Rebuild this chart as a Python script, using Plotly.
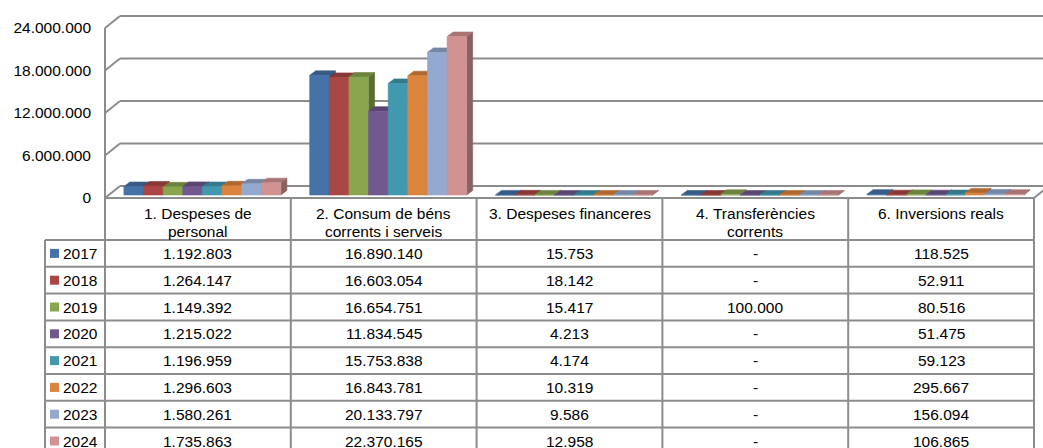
import plotly.graph_objects as go

# ---------------- data ----------------
categories = ["1. Despeses de<br>personal", "2. Consum de béns<br>corrents i serveis",
              "3. Despeses financeres", "4. Transferències<br>corrents", "6. Inversions reals"]
years = ["2017", "2018", "2019", "2020", "2021", "2022", "2023", "2024"]
v2017 = [1192803, 16890140, 15753, 0, 118525]
v2018 = [1264147, 16603054, 18142, 0, 52911]
v2019 = [1149392, 16654751, 15417, 100000, 80516]
v2020 = [1215022, 11834545, 4213, 0, 51475]
v2021 = [1196959, 15753838, 4174, 0, 59123]
v2022 = [1296603, 16843781, 10319, 0, 295667]
v2023 = [1580261, 20133797, 9586, 0, 156094]
v2024 = [1735863, 22370165, 12958, 0, 106865]
series = [v2017, v2018, v2019, v2020, v2021, v2022, v2023, v2024]
tick_vals = [0, 6000000, 12000000, 18000000, 24000000]
colors = ["#4572A7", "#AA4643", "#89A54E", "#71588F", "#4198AF", "#DB843D", "#93A9CF", "#D19392"]

# ---------------- layout geometry ----------------
W, H = 1043, 448
PX_L, PX_R, PX_T, PX_B = 105, 1034, 10, 198
PX_PER_M = 170 / 24.0          # pixels per million (front plane)
YMAX = (PX_B - PX_T) / PX_PER_M * 1e6
UNIT_PX = (PX_R - PX_L) / 5.0  # px per category unit
FONT = "Liberation Sans, Arial, sans-serif"
GRID = "#8c8c8c"

def fx(px):
    return (px - PX_L) / (PX_R - PX_L)

def fy(py):
    return (PX_B - py) / (PX_B - PX_T)

def shade(hexc, f):
    r, g, b = int(hexc[1:3], 16), int(hexc[3:5], 16), int(hexc[5:7], 16)
    return "rgb(%d,%d,%d)" % (r * f, g * f, b * f)

def fmt(v):
    return "-" if v == 0 else "{:,}".format(v).replace(",", ".")

group_w = 0.845
bw = group_w / len(years)
shift_x = 4.5 / UNIT_PX
base = 3 / PX_PER_M * 1e6
ddx = 6 / UNIT_PX
ddy = 4.5 / PX_PER_M * 1e6

fig = go.Figure()
for i, (yr, vals, col) in enumerate(zip(years, series, colors)):
    sx, sy, tx, ty, fxs, fys = [], [], [], [], [], []
    for c, v in enumerate(vals):
        x0 = c - group_w / 2 + i * bw + shift_x
        x1 = x0 + bw
        top = base + v
        sx += [x1, x1 + ddx, x1 + ddx, x1, x1, None]
        sy += [base, base + ddy, top + ddy, top, base, None]
        tx += [x0, x1, x1 + ddx, x0 + ddx, x0, None]
        ty += [top, top, top + ddy, top + ddy, top, None]
        fxs += [x0, x1, x1, x0, x0, None]
        fys += [base, base, top, top, base, None]
    for xs, ys, cc in [(sx, sy, shade(col, 0.66)), (tx, ty, shade(col, 0.8)), (fxs, fys, col)]:
        fig.add_trace(go.Scatter(x=xs, y=ys, mode="lines", fill="toself", fillcolor=cc,
                                 line=dict(width=0.6, color=cc), hoverinfo="skip",
                                 showlegend=False, name=yr))

shapes = []
depth = 12 / (PX_B - PX_T)
for v in tick_vals:
    yf = v / YMAX
    shapes.append(dict(type="line", xref="paper", yref="paper", x0=fx(105), y0=yf,
                       x1=fx(120), y1=yf + depth, line=dict(color=GRID, width=2), layer="below"))
    shapes.append(dict(type="line", xref="paper", yref="paper", x0=fx(120), y0=yf + depth,
                       x1=fx(1050), y1=yf + depth, line=dict(color=GRID, width=2), layer="below"))
# left front edge
shapes.append(dict(type="line", xref="paper", yref="paper", x0=0, y0=0, x1=0, y1=tick_vals[-1] / YMAX,
                   line=dict(color=GRID, width=2), layer="below"))
# floor right edge
shapes.append(dict(type="line", xref="paper", yref="paper", x0=fx(1034), y0=0, x1=fx(1049), y1=depth,
                   line=dict(color=GRID, width=2), layer="below"))

# ---------------- data table ----------------
TL = 45
HDR_B = 240
ROW_H = 26.8
col_edges = [PX_L + k * UNIT_PX for k in range(6)]
tbl_line = dict(color=GRID, width=2)
# header row top line
shapes.append(dict(type="line", xref="paper", yref="paper", x0=fx(PX_L), y0=fy(198), x1=fx(PX_R), y1=fy(198), line=tbl_line))
for xe in col_edges:
    shapes.append(dict(type="line", xref="paper", yref="paper", x0=fx(xe), y0=fy(198), x1=fx(xe), y1=fy(460), line=tbl_line))
shapes.append(dict(type="line", xref="paper", yref="paper", x0=fx(TL), y0=fy(HDR_B), x1=fx(TL), y1=fy(460), line=tbl_line))
for r in range(len(years) + 1):
    yy = HDR_B + r * ROW_H
    shapes.append(dict(type="line", xref="paper", yref="paper", x0=fx(TL), y0=fy(yy), x1=fx(PX_R), y1=fy(yy), line=tbl_line))

annotations = []
for c, name in enumerate(categories):
    xc = (col_edges[c] + col_edges[c + 1]) / 2
    for li, line in enumerate(name.split("<br>")):
        annotations.append(dict(text=line, xref="paper", yref="paper", x=fx(xc), y=fy(213 + 18 * li),
                                xanchor="center", yanchor="middle", showarrow=False,
                                font=dict(family=FONT, size=15.5, color="#000")))
for r, (yr, vals, col) in enumerate(zip(years, series, colors)):
    ym = HDR_B + (r + 0.5) * ROW_H
    shapes.append(dict(type="rect", xref="paper", yref="paper", x0=fx(50), x1=fx(59),
                       y0=fy(ym - 4.5), y1=fy(ym + 4.5), fillcolor=col, line=dict(width=0)))
    annotations.append(dict(text=yr, xref="paper", yref="paper", x=fx(61), y=fy(ym),
                            xanchor="left", yanchor="middle", showarrow=False,
                            font=dict(family=FONT, size=15.5, color="#000")))
    for c, v in enumerate(vals):
        xc = (col_edges[c] + col_edges[c + 1]) / 2
        annotations.append(dict(text=fmt(v), xref="paper", yref="paper", x=fx(xc), y=fy(ym),
                                xanchor="center", yanchor="middle", showarrow=False,
                                font=dict(family=FONT, size=15.5, color="#000")))

fig.update_layout(
    width=W, height=H,
    margin=dict(l=PX_L, r=W - PX_R, t=PX_T, b=H - PX_B, pad=0),
    paper_bgcolor="white", plot_bgcolor="rgba(0,0,0,0)",
    xaxis=dict(range=[-0.5, 4.5], visible=False, fixedrange=True),
    yaxis=dict(range=[0, YMAX], showgrid=False, zeroline=False, showline=False,
               tickvals=tick_vals, ticktext=[fmt(v) if v else "0" for v in tick_vals],
               ticks="", ticklabelstandoff=13,
               tickfont=dict(family=FONT, size=15.5, color="#000"), fixedrange=True),
    shapes=shapes, annotations=annotations, showlegend=False,
)
fig.write_html("out.html", config={"displayModeBar": False},
               post_script="document.body.style.margin='0';document.body.style.overflow='hidden';")
